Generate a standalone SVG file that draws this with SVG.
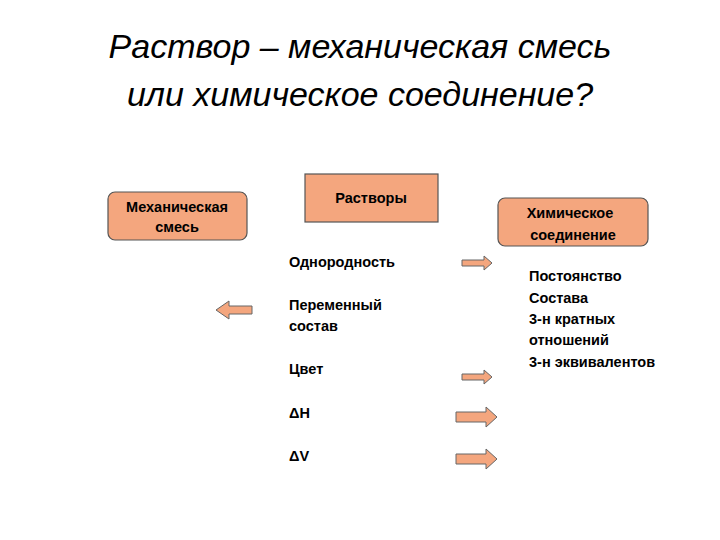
<svg xmlns="http://www.w3.org/2000/svg" width="720" height="540" viewBox="0 0 720 540">
<style>
.t{font-family:"Liberation Sans",Arial,sans-serif;font-style:italic;font-size:34px;fill:#000;text-anchor:middle}
.b{fill:#F4A67E;stroke:#555;stroke-width:1.2}
.l{font-family:"Liberation Sans",Arial,sans-serif;font-weight:bold;font-size:14.5px;fill:#000}
.c{text-anchor:middle}
.a{fill:#F4A67E;stroke:#666;stroke-width:1}
</style>
<rect width="720" height="540" fill="#fff"/>
<text class="t" x="360" y="58">Раствор – механическая смесь</text>
<text class="t" x="360" y="106">или химическое соединение?</text>
<g id="mech"><rect class="b" x="108" y="192" width="139" height="48" rx="7"/>
<text class="l c" x="177" y="212">Механическая</text><text class="l c" x="177" y="232">смесь</text></g>
<g id="rastvory"><rect class="b" x="305" y="174" width="133" height="48"/>
<text class="l c" x="371" y="203">Растворы</text></g>
<g id="chem"><rect class="b" x="498" y="198" width="150" height="48" rx="7"/>
<text class="l c" x="570" y="218">Химическое</text><text class="l c" x="573" y="240">соединение</text></g>
<g id="props" class="l">
<text x="289" y="267">Однородность</text>
<text x="289" y="310">Переменный</text><text x="289" y="331">состав</text>
<text x="289" y="374">Цвет</text>
<text x="289" y="418">ΔН</text>
<text x="289" y="461">ΔV</text>
</g>
<g id="chemprops" class="l">
<text x="529" y="281">Постоянство</text>
<text x="529" y="303">Состава</text>
<text x="529" y="324">3-н кратных</text>
<text x="529" y="345">отношений</text>
<text x="529" y="367">3-н эквивалентов</text>
</g>
<g id="connectors">
<polygon class="a" points="462,260 484,260 484,256 492,263 484,270 484,266 462,266"/>
<polygon class="a" points="252,306 229,306 229,301 216,310 229,319 229,314 252,314"/>
<polygon class="a" points="462,374 484,374 484,370 492,377 484,384 484,380 462,380"/>
<polygon class="a" points="456,412 486,412 486,407 497,417 486,427 486,422 456,422"/>
<polygon class="a" points="456,454 486,454 486,449 497,459 486,469 486,464 456,464"/>
</g>
</svg>
